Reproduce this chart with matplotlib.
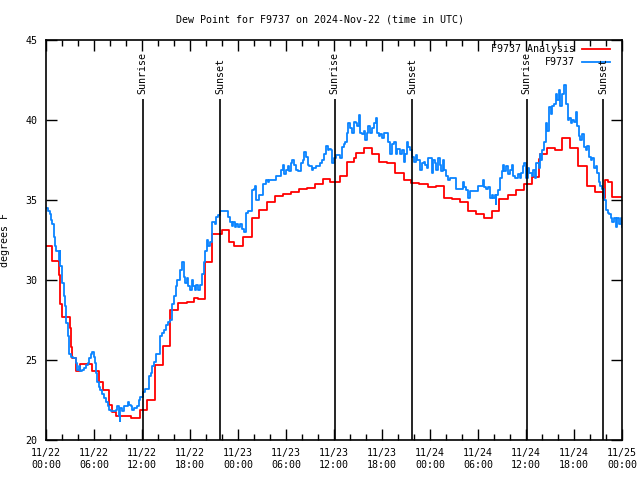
import matplotlib
matplotlib.use("Agg")
import matplotlib.pyplot as plt
from matplotlib.lines import Line2D

plt.rcParams['font.family'] = ['DejaVu Sans Mono']
FS = 7.2
plt.rcParams['font.size'] = FS

# ---- data (hours since 2024-11-22 00:00 UTC) ----
red_t = [0.0, 0.7, 1.6, 1.8, 2.0, 3.0, 3.1, 3.2, 3.75, 4.3, 5.75, 6.6, 7.1, 7.9, 8.2, 8.75,
         10.6, 11.7, 12.6, 13.6, 14.6, 15.5, 16.5, 17.6, 18.5, 19.0, 19.9, 20.8, 22.0, 22.9,
         23.5, 24.6, 25.7, 26.6, 27.6, 28.6, 29.6, 30.6, 31.6, 32.6, 33.6, 34.6, 35.5, 36.8,
         37.6, 38.5, 38.8, 39.7, 40.7, 41.6, 42.6, 43.6, 44.7, 45.6, 46.6, 47.7, 48.8, 49.7,
         50.7, 51.7, 52.7, 53.7, 54.7, 55.7, 56.6, 57.7, 58.7, 59.7, 60.7, 61.6, 61.7, 62.6,
         63.6, 64.5, 65.5, 66.5, 67.6, 68.6, 69.6, 69.9, 70.3, 70.8, 72.0]
red_v = [32.1, 31.2, 30.3, 28.5, 27.7, 27.0, 25.8, 25.1, 24.3, 24.75, 24.3, 23.6, 23.1, 22.2, 21.75, 21.5,
         21.4, 21.9, 22.5, 24.7, 25.9, 28.1, 28.55, 28.6, 28.9, 28.8, 31.1, 32.9, 33.1, 32.4,
         32.1, 32.7, 33.9, 34.4, 34.9, 35.25, 35.4, 35.5, 35.7, 35.75, 36.0, 36.3, 36.1, 36.5,
         37.4, 37.6, 37.95, 38.25, 37.9, 37.4, 37.3, 36.7, 36.25, 36.05, 36.0, 35.8, 35.9, 35.1,
         35.05, 34.9, 34.3, 34.1, 33.9, 34.3, 35.05, 35.3, 35.6, 36.0, 36.45, 37.55, 37.9, 38.25,
         38.1, 38.9, 38.25, 37.1, 35.9, 35.5, 35.1, 36.25, 36.1, 35.2, 35.2]

blue_t = [0.08, 0.25, 0.5, 0.67, 0.8, 1.0, 1.08, 1.2, 1.6, 1.7, 1.8, 2.0, 2.25, 2.4, 2.5, 2.7, 2.9,
          3.1, 3.4, 3.7, 3.9, 4.1, 4.3, 4.5, 4.75, 4.95, 5.2, 5.4, 5.6, 5.8, 6.0, 6.1, 6.2, 6.4,
          6.6, 6.8, 7.0, 7.25, 7.45, 7.7, 7.9, 8.1, 8.5, 8.7, 8.9, 9.1, 9.2, 9.3, 9.5, 9.75, 9.95,
          10.2, 10.4, 10.6, 10.8, 11.0, 11.4, 11.6, 11.8, 12.1, 12.4, 12.8, 12.9, 13.1, 13.3, 13.5,
          13.75, 14.0, 14.3, 14.45, 14.75, 15.0, 15.3, 15.5, 15.7, 15.8, 16.0, 16.25, 16.4, 16.7,
          16.8, 17.0, 17.2, 17.4, 17.6, 17.8, 18.0, 18.2, 18.4, 18.6, 18.8, 19.0, 19.25, 19.5,
          19.7, 19.9, 20.1, 20.3, 20.5, 20.7, 20.8, 21.1, 21.3, 21.5, 21.75, 22.5, 22.8, 23.0,
          23.2, 23.4, 23.6, 23.8, 23.95, 24.25, 24.5, 24.8, 25.0, 25.2, 25.8, 26.0, 26.15, 26.3,
          26.6, 27.1, 27.5, 27.7, 27.9, 28.75, 29.2, 29.4, 29.6, 29.8, 30.0, 30.2, 30.4, 30.6,
          30.8, 31.0, 31.25, 31.5, 31.9, 32.1, 32.3, 32.5, 32.7, 32.9, 33.25, 33.4, 33.75, 34.2,
          34.5, 34.8, 35.0, 35.2, 35.4, 35.6, 35.8, 36.0, 36.2, 36.8, 37.0, 37.2, 37.4, 37.6,
          37.8, 38.0, 38.25, 38.45, 38.7, 38.9, 39.1, 39.3, 39.5, 39.7, 39.9, 40.1, 40.3, 40.5,
          40.75, 40.95, 41.2, 41.4, 41.6, 41.8, 42.0, 42.2, 42.8, 43.0, 43.25, 43.45, 43.7, 43.9,
          44.3, 44.5, 44.7, 44.9, 45.1, 45.3, 45.5, 45.75, 45.95, 46.2, 46.4, 46.7, 47.0, 47.2,
          47.4, 47.6, 47.8, 47.95, 48.2, 48.4, 48.6, 48.8, 49.0, 49.2, 49.4, 49.6, 49.8, 50.0,
          50.25, 50.45, 51.3, 52.1, 52.3, 52.5, 52.75, 52.95, 54.0, 54.6, 54.8, 55.0, 55.25,
          55.45, 55.7, 55.9, 56.1, 56.2, 56.3, 56.5, 56.7, 56.8, 57.0, 57.1, 57.3, 57.5, 57.75,
          57.95, 58.2, 58.4, 58.6, 59.0, 59.2, 59.4, 59.6, 59.8, 59.95, 60.2, 60.4, 60.7, 60.9,
          61.1, 61.2, 61.6, 61.75, 61.9, 62.0, 62.25, 62.45, 62.65, 62.9, 63.1, 63.3, 63.5, 63.7,
          63.9, 64.1, 64.3, 64.5, 64.75, 64.95, 65.2, 65.4, 65.6, 65.8, 66.0, 66.2, 66.4, 66.6,
          66.8, 67.0, 67.25, 67.45, 67.65, 67.9, 68.1, 68.3, 68.5, 68.7, 68.9, 69.1, 69.3, 69.5,
          69.75, 69.95, 70.2, 70.4, 70.6, 70.8, 71.0, 71.2, 71.4, 71.6, 71.85, 72.0]
blue_v = [34.5, 34.3, 34.1, 33.75, 33.5, 32.7, 32.1, 31.8, 31.25, 31.8, 30.9, 29.8, 29.0, 28.35, 27.3, 26.5, 25.4,
          25.2, 25.1, 24.8, 24.4, 24.6, 24.3, 24.4, 24.5, 24.7, 24.8, 25.1, 25.4, 25.5, 25.2, 24.8, 24.2, 23.6,
          23.3, 23.1, 22.9, 22.6, 22.4, 22.1, 21.9, 21.8, 21.8, 21.9, 22.1, 21.5, 21.2, 22.0, 21.8, 22.1, 22.1,
          22.4, 22.2, 22.1, 21.9, 22.0, 22.1, 22.5, 22.7, 23.0, 23.2, 23.2, 24.0, 24.2, 24.6, 24.9,
          25.4, 25.4, 26.5, 26.7, 26.9, 27.2, 27.4, 27.5, 28.0, 28.5, 29.0, 29.6, 30.0, 30.2,
          30.6, 31.1, 30.2, 29.8, 30.1, 29.6, 29.4, 30.0, 29.6, 29.4, 29.7, 29.4, 29.7, 30.4,
          31.1, 31.8, 32.5, 32.1, 32.4, 32.9, 33.6, 33.5, 33.96, 34.06, 34.3, 34.3, 33.96, 33.6,
          33.4, 33.6, 33.3, 33.5, 33.3, 33.5, 33.2, 33.0, 34.2, 34.3, 35.6, 35.7, 35.9, 35.0,
          35.3, 36.0, 36.25, 36.1, 36.25, 36.5, 36.5, 36.9, 37.2, 36.6, 36.9, 37.1, 36.8, 37.3,
          37.5, 37.2, 36.9, 36.8, 37.3, 37.5, 38.0, 37.7, 37.2, 37.1, 36.9, 37.0, 37.1, 37.3,
          37.5, 37.9, 38.4, 38.1, 38.2, 38.1, 37.3, 37.6, 37.8, 37.6, 38.3, 38.5, 38.6, 39.2,
          39.8, 39.5, 39.2, 39.9, 39.8, 39.6, 40.3, 39.2, 39.1, 39.3, 38.75, 39.2, 39.6, 39.2,
          39.5, 39.8, 40.1, 39.2, 39.0, 39.1, 38.85, 39.2, 38.6, 37.9, 38.5, 38.6, 37.9, 38.2,
          37.9, 38.1, 37.4, 37.9, 38.6, 38.3, 38.1, 37.7, 37.4, 37.8, 37.5, 36.9, 37.3, 37.4,
          37.2, 37.0, 37.6, 37.6, 36.7, 37.5, 37.3, 36.9, 37.6, 37.2, 36.8, 37.5, 36.9, 36.5,
          36.25, 36.35, 35.7, 36.15, 35.8, 35.6, 35.1, 35.56, 35.9, 36.25, 35.8, 35.7, 35.8,
          35.1, 35.3, 35.1, 35.3, 34.75, 35.3, 35.6, 35.8, 36.35, 36.8, 37.2, 36.8, 37.1, 36.6,
          36.9, 37.2, 36.5, 36.35, 36.6, 36.35, 36.7, 37.1, 37.3, 36.35, 37.0, 36.7, 36.5, 36.9,
          36.35, 37.3, 37.0, 37.9, 37.5, 38.1, 38.6, 39.8, 39.3, 40.8, 40.4, 40.9, 41.0, 41.6,
          41.25, 41.9, 40.9, 41.6, 42.2, 41.0, 40.0, 40.1, 39.8, 40.0, 39.9, 40.5, 39.6, 39.0,
          38.75, 39.1, 38.3, 38.1, 38.4, 37.7, 37.5, 37.6, 37.0, 37.1, 36.7, 36.1, 35.9, 35.7,
          35.0, 34.4, 34.2, 34.1, 33.9, 33.6, 33.9, 33.3, 33.9, 33.5, 33.9, 33.3]

sun_t = [12.1, 21.75, 36.1, 45.75, 60.1, 69.65]
sun_lbl = ["Sunrise", "Sunset", "Sunrise", "Sunset", "Sunrise", "Sunset"]

xtick_t = list(range(0, 73, 6))
xtick_lbl = ["11/22\n00:00", "11/22\n06:00", "11/22\n12:00", "11/22\n18:00",
             "11/23\n00:00", "11/23\n06:00", "11/23\n12:00", "11/23\n18:00",
             "11/24\n00:00", "11/24\n06:00", "11/24\n12:00", "11/24\n18:00", "11/25\n00:00"]
ytick_v = [20, 25, 30, 35, 40, 45]

# ---- figure ----
fig = plt.figure(figsize=(6.4, 4.8), dpi=100)
ax = fig.add_axes([46/640, 40/480, 576/640, 400/480])

ax.plot(red_t, red_v, color='#ff0000', lw=1.3, drawstyle='steps-post')
ax.plot(blue_t, blue_v, color='#0a84ff', lw=1.3, drawstyle='steps-post')

for t, lbl in zip(sun_t, sun_lbl):
    ax.vlines(t, 20, 41.3, color='black', lw=1.2)
    ax.text(t, 41.65, lbl, rotation=90, ha='center', va='bottom', fontsize=FS)

ax.set_xlim(0, 72)
ax.set_ylim(20, 45)
ax.set_xticks(xtick_t)
ax.set_xticklabels(xtick_lbl)
ax.set_xticks(range(0, 73, 2), minor=True)
ax.set_yticks(ytick_v)
ax.tick_params(axis='both', which='major', direction='in', length=8, width=1,
               top=True, right=True, labelsize=FS)
ax.tick_params(axis='x', which='major', pad=6)
ax.tick_params(axis='y', which='major', pad=6)
ax.tick_params(axis='x', which='minor', direction='in', length=4, width=1, top=True)
for s in ax.spines.values():
    s.set_linewidth(1.2)

ax.set_ylabel("degrees F", fontsize=FS)
ax.yaxis.set_label_coords(-0.062, 0.5)
fig.text(0.5, 1 - 19/480, "Dew Point for F9737 on 2024-Nov-22 (time in UTC)",
         ha='center', va='center', fontsize=FS)

# legend (gnuplot style: text right, sample line)
ax.text(0.918, 0.9775, "F9737 Analysis", transform=ax.transAxes, ha='right', va='center', fontsize=FS)
ax.add_line(Line2D([0.931, 0.979], [0.9775, 0.9775], transform=ax.transAxes, color='#ff0000', lw=1.3))
ax.text(0.918, 0.945, "F9737", transform=ax.transAxes, ha='right', va='center', fontsize=FS)
ax.add_line(Line2D([0.931, 0.979], [0.945, 0.945], transform=ax.transAxes, color='#0a84ff', lw=1.3))

fig.savefig("out.png", dpi=100)
